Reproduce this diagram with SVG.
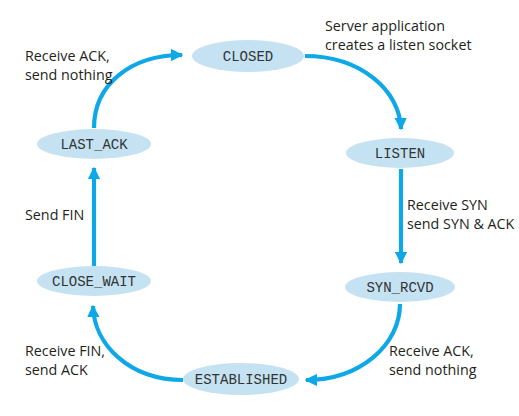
<svg xmlns="http://www.w3.org/2000/svg" width="519" height="416" viewBox="0 0 519 416">
<style>
.st ellipse{fill:#c4e2f2}
.st text{font-family:"Liberation Mono","Courier New",monospace;font-size:14px;fill:#333;text-anchor:middle}
.lbl{font-family:"Open Sans","Liberation Sans",sans-serif;font-size:14.3px;fill:#231f20}
.conn path{fill:none;stroke:#0fa8e6;stroke-width:4.2}
</style>
<defs>
<marker id="ah" viewBox="0 0 10 10" refX="9" refY="5" markerWidth="3" markerHeight="3" markerUnits="strokeWidth" orient="auto">
<path d="M0,0 L10,5 L0,10 z" fill="#0fa8e6"/>
</marker>
</defs>
<rect width="519" height="416" fill="#fff"/>
<g class="conn">
<path d="M94,128 C94,85 130,55 182,55" marker-end="url(#ah)"/>
<path d="M305,56 C360,56 400,90 401,129" marker-end="url(#ah)"/>
<path d="M401,169 L401,263" marker-end="url(#ah)"/>
<path d="M400,304 C400,345 360,380 306,380" marker-end="url(#ah)"/>
<path d="M183,380 C130,380 94,345 93,306" marker-end="url(#ah)"/>
<path d="M94,266 L94,168" marker-end="url(#ah)"/>
</g>
<g id="closed" class="st"><ellipse cx="248" cy="56" rx="56" ry="16"/><text x="248" y="61">CLOSED</text></g>
<g id="listen" class="st"><ellipse cx="400" cy="153" rx="54" ry="15"/><text x="400" y="158">LISTEN</text></g>
<g id="syn_rcvd" class="st"><ellipse cx="400" cy="287" rx="55" ry="15"/><text x="400" y="292">SYN_RCVD</text></g>
<g id="established" class="st"><ellipse cx="241" cy="379" rx="58" ry="16"/><text x="241" y="384">ESTABLISHED</text></g>
<g id="close_wait" class="st"><ellipse cx="94" cy="281" rx="57" ry="15"/><text x="94" y="286">CLOSE_WAIT</text></g>
<g id="last_ack" class="st"><ellipse cx="94" cy="144" rx="57" ry="15"/><text x="94" y="149">LAST_ACK</text></g>
<g id="labels">
<text class="lbl" x="25" y="61">Receive ACK,</text>
<text class="lbl" x="25" y="80">send nothing</text>
<text class="lbl" x="325" y="31">Server application</text>
<text class="lbl" x="325" y="50">creates a listen socket</text>
<text class="lbl" x="407" y="210">Receive SYN</text>
<text class="lbl" x="407" y="229">send SYN &amp; ACK</text>
<text class="lbl" x="25" y="220">Send FIN</text>
<text class="lbl" x="25" y="356">Receive FIN,</text>
<text class="lbl" x="25" y="375">send ACK</text>
<text class="lbl" x="389" y="356">Receive ACK,</text>
<text class="lbl" x="389" y="375">send nothing</text>
</g>
</svg>
